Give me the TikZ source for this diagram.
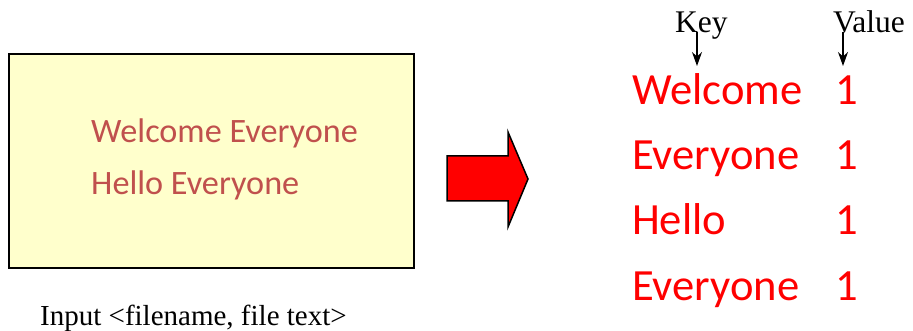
\documentclass[tikz,border=0pt]{standalone}
\usepackage{fontspec}
\setmainfont{Liberation Serif}
\newfontfamily\calfont{Carlito}
\usetikzlibrary{arrows.meta}
\definecolor{boxfill}{HTML}{FFFFCC}
\definecolor{boxtext}{HTML}{C0504D}
\definecolor{kvred}{HTML}{FF0000}
\tikzset{
  inputbox/.style={draw=black, line width=1.5pt, fill=boxfill},
  boxline/.style={anchor=base west, inner sep=0pt, text=boxtext, font=\calfont\fontsize{34.2}{34}\selectfont},
  kvtext/.style={anchor=base west, inner sep=0pt, text=kvred, font=\calfont\fontsize{44.6}{44}\selectfont},
  serifl/.style={anchor=base west, inner sep=0pt, font=\fontsize{31.5}{31}\selectfont},
  pointer/.style={-{Stealth[length=14pt,width=10pt]}, line width=1.3pt},
  blockarrow/.style={draw=black, line width=1.5pt, fill=kvred, line join=miter}
}
\begin{document}
\begin{tikzpicture}[x=1pt,y=-1pt]
\useasboundingbox (0,0) rectangle (913,331);
% input box
\draw[inputbox] (9,54) rectangle (414,268);
\node[boxline] (l1) at (91,143) {Welcome Everyone};
\node[boxline] (l2) at (91,195) {Hello Everyone};
\node[serifl, font=\fontsize{29}{29}\selectfont] (cap) at (40,325) {Input <filename, file text>};
% block arrow
\path[blockarrow] (447,156) -- (508,156) -- (508,132) -- (528,179) -- (508,227) -- (508,201) -- (447,201) -- cycle;
% key / value headers
\node[serifl] (key) at (675,33) {Key};
\node[serifl] (val) at (833,33) {Value};
\coordinate (ks) at (697,32);
\coordinate (ke) at (697,66);
\coordinate (vs) at (843,32);
\coordinate (ve) at (843,66);
\draw[pointer] (ks) -- (ke);
\draw[pointer] (vs) -- (ve);
% key value pairs
\node[kvtext] (k1) at (632,105) {Welcome};
\node[kvtext] (k2) at (632,170) {Everyone};
\node[kvtext] (k3) at (632,235) {Hello};
\node[kvtext] (k4) at (632,300) {Everyone};
\node[kvtext] (v1) at (835,105) {1};
\node[kvtext] (v2) at (835,170) {1};
\node[kvtext] (v3) at (835,235) {1};
\node[kvtext] (v4) at (835,300) {1};
\end{tikzpicture}
\end{document}
